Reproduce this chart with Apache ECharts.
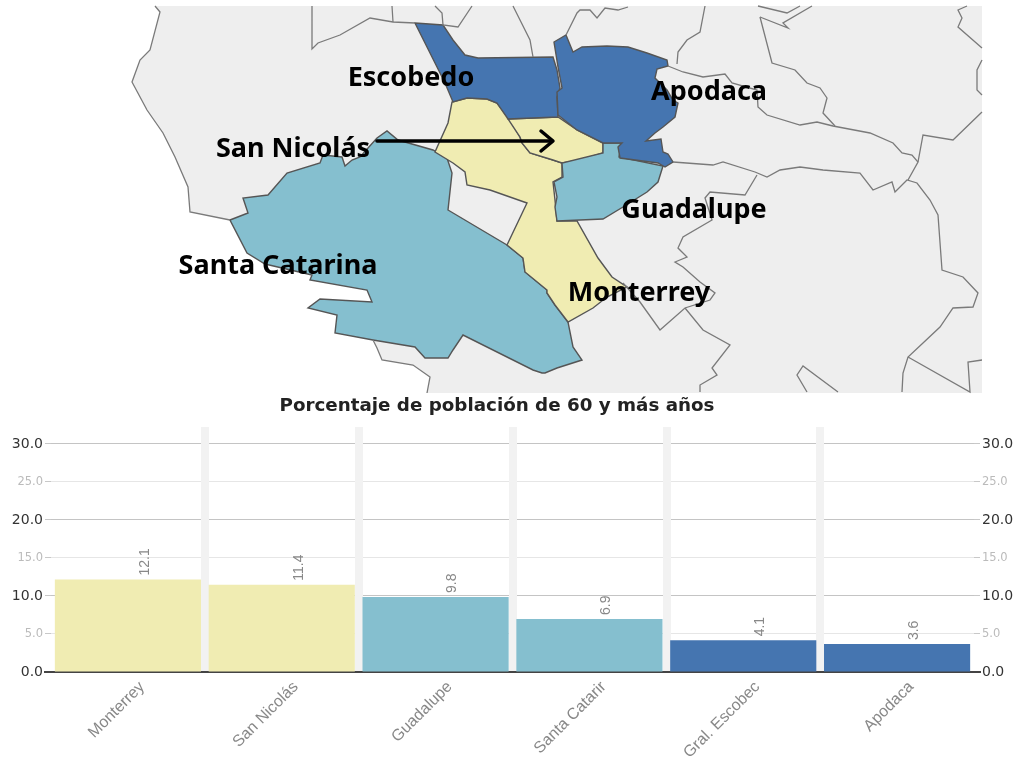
<!DOCTYPE html>
<html>
<head>
<meta charset="utf-8">
<style>html,body{margin:0;padding:0;background:#fff}#c{width:1020px;height:761px}</style>
<script src="https://cdn.jsdelivr.net/npm/echarts@6/dist/echarts.min.js"></script>
</head>
<body>
<div id="c"></div>
<script>
// ---- bar chart data ----
const categories = ['Monterrey','San Nicolás','Guadalupe','Santa Catarir','Gral. Escobec','Apodaca'];
const values = [12.1,11.4,9.8,6.9,4.1,3.6];
const groupYellow = '#f0ecb2', groupTeal = '#85bfcf', groupBlue = '#4575b0';
const barColors = [groupYellow,groupYellow,groupTeal,groupTeal,groupBlue,groupBlue];
const yTicks = [0,5,10,15,20,25,30];
const titleText = 'Porcentaje de población de 60 y más años';

// ---- map data (shapes) ----
const land = [[155,6],[160,12],[150,50],[140,60],[132,82],[147,110],[163,133],[175,157],[188,187],[190,212],[230,220],[320,230],[420,300],[400,335],[373,340],[377,348],[382,360],[413,365],[430,377],[427,393],[982,393],[982,6]];
const santaCatarina = [[230,220],[248,213],[243,198],[268,195],[287,173],[320,163],[323,155],[342,157],[345,166],[352,160],[360,157],[377,138],[387,131],[398,140],[433,150],[447,158],[452,173],[448,210],[507,245],[523,258],[525,272],[547,290],[547,293],[555,305],[568,322],[573,347],[582,360],[557,368],[545,373],[542,373],[533,370],[463,335],[453,350],[448,358],[425,358],[415,347],[373,340],[335,333],[337,315],[308,308],[320,299],[372,302],[367,290],[310,280],[312,275],[265,264],[247,253]];
const monterrey = [[452,102],[467,98],[487,99],[497,103],[510,120],[520,137],[522,143],[530,153],[553,160],[562,163],[562,177],[553,182],[555,200],[557,221],[577,221],[598,258],[612,277],[627,287],[607,297],[593,308],[568,322],[555,305],[547,293],[547,290],[525,272],[523,258],[507,245],[527,203],[490,190],[467,185],[465,172],[453,163],[435,152],[448,123]];
const sanNicolas = [[508,119],[558,117],[577,130],[603,143],[603,153],[580,160],[562,163],[553,160],[530,153],[522,143],[520,137]];
const guadalupe = [[603,143],[622,143],[619,157],[663,166],[658,182],[647,192],[623,207],[603,219],[557,221],[555,207],[557,197],[554,182],[563,177],[562,163],[603,153]];
const escobedo = [[415,23],[443,25],[453,40],[465,55],[478,58],[553,57],[557,70],[560,88],[557,97],[558,117],[508,119],[497,103],[487,99],[467,98],[453,102],[445,83],[430,53]];
const apodaca = [[554,42],[566,35],[573,52],[582,47],[607,46],[628,47],[647,53],[667,60],[668,66],[657,69],[655,78],[667,90],[673,100],[678,103],[675,117],[663,127],[655,133],[646,141],[661,139],[663,152],[668,154],[673,162],[665,167],[658,163],[620,158],[618,147],[622,143],[603,143],[577,130],[558,115],[557,92],[562,88],[558,67]];
const municipalities = [
  ['Resto',land,'#eeeeee'],
  ['Santa Catarina',santaCatarina,groupTeal],
  ['Monterrey',monterrey,groupYellow],
  ['San Nicolás',sanNicolas,groupYellow],
  ['Guadalupe',guadalupe,groupTeal],
  ['Escobedo',escobedo,groupBlue],
  ['Apodaca',apodaca,groupBlue]
];
const borderLines = [
  [[155,6],[160,12],[150,50],[140,60],[132,82],[147,110],[163,133],[175,157],[188,187],[190,212],[230,220]],
  [[373,340],[377,348],[382,360],[413,365],[430,377],[427,393]],
  [[312,6],[312,49],[318,43],[340,35],[370,18],[393,22],[415,23]],
  [[392,6],[393,22]],
  [[435,6],[442,13],[443,25],[458,27],[472,6]],
  [[513,6],[530,40],[533,57]],
  [[566,35],[577,13],[580,10],[590,10],[597,18],[605,8],[618,10],[628,7]],
  [[705,6],[700,32],[687,40],[678,52],[677,64]],
  [[668,66],[683,72],[703,77],[725,74],[732,83],[757,90],[758,107],[767,115],[800,125],[817,122],[833,126],[870,133],[893,143],[902,153],[912,155],[918,162],[908,180]],
  [[760,17],[772,63],[795,70],[807,83],[820,88],[827,98],[823,113],[835,126]],
  [[760,17],[788,28],[783,23],[812,6]],
  [[758,6],[787,13],[800,6]],
  [[918,162],[923,135],[953,140],[982,112]],
  [[967,6],[958,10],[962,18],[958,27],[982,48]],
  [[982,60],[977,70],[977,90],[982,95]],
  [[673,162],[713,165],[723,162],[755,172],[767,177],[780,170],[800,167],[823,170],[860,173],[873,190],[892,182],[895,192],[907,180],[917,183],[930,200],[938,215],[942,270],[963,277],[978,293],[973,307],[953,308],[940,327],[923,343],[908,357],[903,373],[902,392]],
  [[757,175],[745,195],[710,192],[705,198],[712,220],[683,237],[678,248],[687,257],[675,262],[683,267],[700,282],[715,293],[710,300],[685,308],[660,330],[640,302],[623,283]],
  [[685,308],[703,330],[730,345],[712,368],[717,375],[700,385],[700,392]],
  [[908,357],[970,392],[968,362],[982,360]],
  [[838,392],[803,366],[797,375],[807,392]]
];
const arrowLines = [
  [[377,141],[552,141]],
  [[541,131],[553,141],[541,151]]
];
const mapLabels = [
  ['Escobedo',411,78],
  ['Apodaca',709,92],
  ['San Nicolás',293,149],
  ['Guadalupe',694,210],
  ['Santa Catarina',278,266],
  ['Monterrey',639,293]
];

echarts.registerMap('metro', {
  type:'FeatureCollection',
  features: municipalities.map(m => ({
    type:'Feature', properties:{name:m[0]},
    geometry:{type:'Polygon', coordinates:[m[1].concat([m[1][0]])]}
  }))
});

const fmt = v => (v % 10 === 0 ? '{a|' : '{b|') + v.toFixed(1) + '}';
const yMax = 32.14;
const axisCommon = {
  type:'value', min:0, max:yMax, interval:5,
  axisLine:{show:false},
  axisTick:{show:true, length:6, customValues:yTicks, lineStyle:{color:'#c8c8c8'}},
  splitLine:{show:false},
  axisLabel:{
    margin:8, customValues:yTicks, formatter:fmt,
    rich:{
      a:{fontFamily:'DejaVu Sans', fontSize:14, color:'#333', padding:[2,0,0,0]},
      b:{fontFamily:'DejaVu Sans', fontSize:11.5, color:'#bbb', padding:[2,0,0,0]}
    }
  }
};
const zeroTickAxis = pos => ({
  type:'value', position:pos, min:0, max:yMax, interval:5,
  axisLine:{show:false}, splitLine:{show:false},
  axisTick:{show:true, length:7, customValues:[0], lineStyle:{color:'#444', width:2}},
  axisLabel:{show:false}
});

const chart = echarts.init(document.getElementById('c'), null, {renderer:'canvas'});
chart.setOption({
  animation:false,
  backgroundColor:'#fff',
  title:{
    text:titleText, left:492, top:391, textAlign:'center',
    textStyle:{fontFamily:'DejaVu Sans', fontWeight:'bold', fontSize:18.3, color:'#222', lineHeight:20}
  },
  geo:{
    map:'metro', roam:false, silent:true,
    left:0, top:0, width:1020, height:761,
    boundingCoords:[[0,0],[1020,761]],
    projection:{project:p=>p, unproject:p=>p},
    label:{show:false},
    itemStyle:{borderColor:'#555', borderWidth:1.4},
    regions: municipalities.map(m => ({
      name:m[0],
      itemStyle: m[0]==='Resto' ? {areaColor:m[2], borderWidth:0, borderColor:m[2]} : {areaColor:m[2]}
    }))
  },
  grid:{left:51, right:46, top:427, bottom:89.5, containLabel:false, outerBoundsMode:'none'},
  xAxis:{
    type:'category', data:categories,
    axisLine:{show:true, lineStyle:{color:'#444', width:2}},
    axisTick:{show:false},
    splitLine:{show:true, showMinLine:false, showMaxLine:false, lineStyle:{color:'#f2f2f2', width:8}},
    axisLabel:{
      rotate:45, interval:0, margin:27, color:'#888', fontSize:16,
      fontFamily:'Liberation Sans', padding:[0,-20,0,0]
    }
  },
  yAxis:[
    Object.assign({}, axisCommon, {position:'left', splitLine:{show:true, lineStyle:{color:['#c4c4c4','#e6e6e6']}}}),
    Object.assign({}, axisCommon, {position:'right'}),
    zeroTickAxis('left'),
    zeroTickAxis('right')
  ],
  series:[
    {
      type:'lines', coordinateSystem:'geo', polyline:true, silent:true, z:3,
      lineStyle:{color:'#7a7a7a', width:1.3, opacity:1},
      data:borderLines.map(l=>({coords:l}))
    },
    {
      type:'bar', xAxisIndex:0, yAxisIndex:0, barCategoryGap:'5%', z:4,
      data:values.map((v,i)=>({value:v, itemStyle:{color:barColors[i]}})),
      label:{
        show:true, position:'top', rotate:90, distance:4, align:'left', verticalAlign:'middle',
        offset:[0,17], color:'#888', fontSize:14,
        fontFamily:'Liberation Sans', formatter:p=>p.value.toFixed(1)
      }
    },
    {
      type:'lines', coordinateSystem:'geo', polyline:true, silent:true, z:5,
      lineStyle:{color:'#000', width:3.5, opacity:1, cap:'round', join:'round'},
      data:arrowLines.map(l=>({coords:l}))
    },
    {
      type:'scatter', coordinateSystem:'geo', symbolSize:0, silent:true, z:6,
      itemStyle:{opacity:1},
      data:mapLabels.map(l=>({name:l[0], value:[l[1],l[2]]})),
      label:{
        show:true, position:'inside', formatter:p=>p.name, color:'#000', opacity:1,
        fontFamily:'Noto Sans', fontWeight:'bold', fontSize:27
      }
    }
  ]
});
</script>
</body>
</html>
